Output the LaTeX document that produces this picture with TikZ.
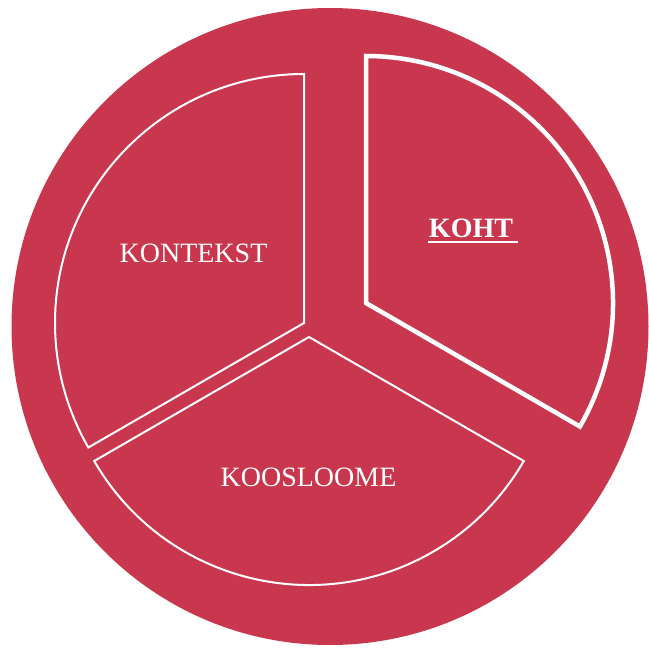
\documentclass[tikz,border=0pt]{standalone}
\usepackage{fontspec}
\setmainfont{Liberation Serif}
\usetikzlibrary{calc}
\definecolor{wheelred}{RGB}{200,55,78}
\begin{document}
\begin{tikzpicture}[x=1pt,y=-1pt,
  sector/.style={draw=white,line width=2pt},
  thicksector/.style={draw=white,line width=4.5pt},
  label/.style={text=white,inner sep=0pt,anchor=base,font=\fontsize{28}{30}\selectfont}]
\useasboundingbox (0,0) rectangle (649,648);
\fill[wheelred] (330,326.5) circle[radius=318.5];
% KONTEKST sector
\coordinate (ck) at (304,323);
\draw[sector] (ck) -- ($(ck)+(270:249)$) arc[start angle=270,end angle=150,radius=249] -- cycle;
% KOOSLOOME sector
\coordinate (cs) at (309,337);
\draw[sector] (cs) -- ($(cs)+(150:248)$) arc[start angle=150,end angle=30,radius=248] -- cycle;
% KOHT sector
\coordinate (ch) at (366,303);
\draw[thicksector] (ch) -- ($(ch)+(30:247)$) arc[start angle=30,end angle=-90,radius=247] -- cycle;
% labels
\node[label] (kontekst) at (193.5,262) {KONTEKST};
\node[label] (koosloome) at (308.5,486) {KOOSLOOME};
\node[label,font=\fontsize{28}{30}\selectfont\bfseries] (koht) at (471,237) {KOHT};
\draw[white,line width=2pt] ($(koht.base west)+(-1,4.5)$) -- ($(koht.base east)+(5,4.5)$);
\end{tikzpicture}
\end{document}
